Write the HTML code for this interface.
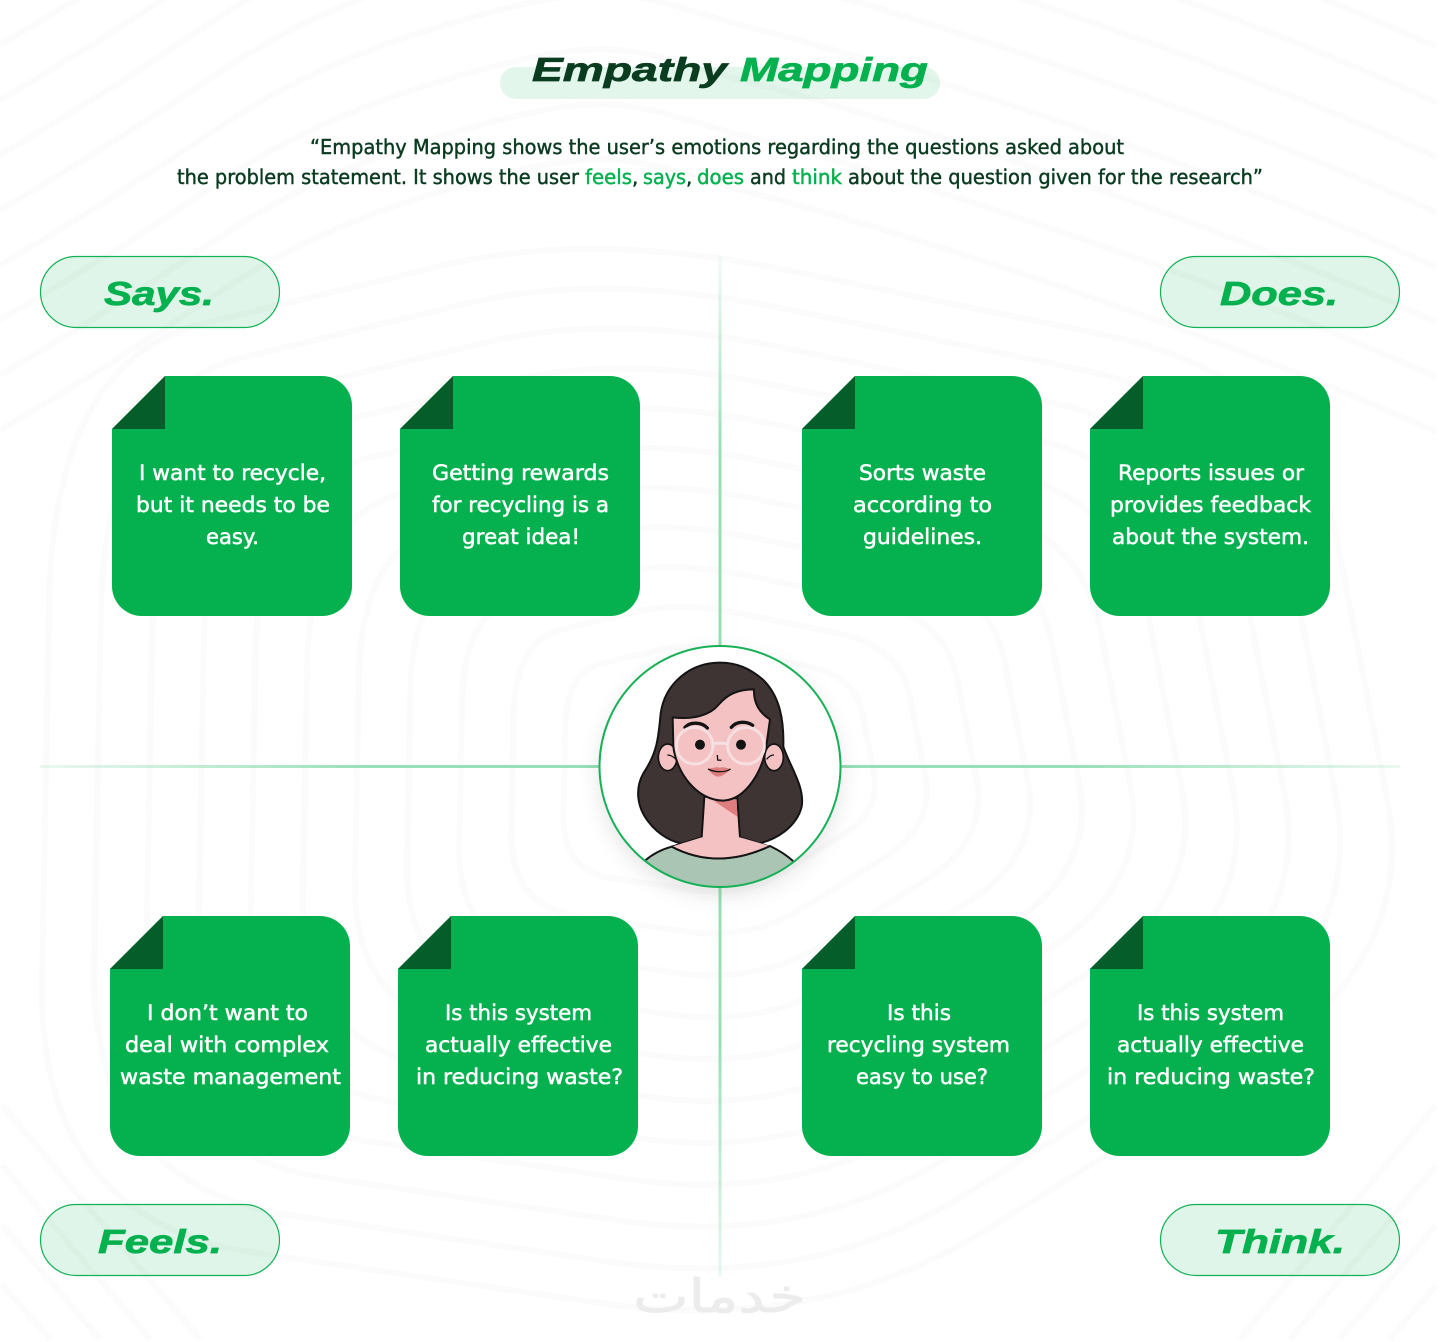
<!DOCTYPE html>
<html><head><meta charset="utf-8"><title>Empathy Mapping</title>
<style>html,body{margin:0;padding:0;background:#fff;width:1440px;height:1342px;overflow:hidden}svg{display:block}
.h{font-family:"Liberation Sans",sans-serif;font-weight:700;font-style:italic;font-size:33px;stroke-width:.7px}
.s{font-family:"DejaVu Sans",sans-serif;font-size:20px;font-weight:400;fill:#0b3b20;stroke:#0b3b20;stroke-width:.45px}
.g{fill:#04b14e;stroke:#04b14e}
.c{font-family:"DejaVu Sans",sans-serif;font-size:21px;fill:#fff;stroke:#fff;stroke-width:.5px}
</style></head><body>
<svg xmlns="http://www.w3.org/2000/svg" width="1440" height="1342" viewBox="0 0 1440 1342">
<defs>
<linearGradient id="vt" x1="0" y1="0" x2="0" y2="1"><stop offset="0" stop-color="#96dfb7" stop-opacity=".1"/><stop offset=".5" stop-color="#96dfb7"/></linearGradient>
<linearGradient id="vb" x1="0" y1="0" x2="0" y2="1"><stop offset=".4" stop-color="#96dfb7"/><stop offset="1" stop-color="#96dfb7" stop-opacity=".2"/></linearGradient>
<linearGradient id="hl" x1="0" y1="0" x2="1" y2="0"><stop offset="0" stop-color="#96dfb7" stop-opacity=".2"/><stop offset=".6" stop-color="#96dfb7"/></linearGradient>
<linearGradient id="hr" x1="0" y1="0" x2="1" y2="0"><stop offset=".4" stop-color="#96dfb7"/><stop offset="1" stop-color="#96dfb7" stop-opacity=".2"/></linearGradient>
<path id="card" d="M53 0 H210 A30 30 0 0 1 240 30 V210 A30 30 0 0 1 210 240 H30 A30 30 0 0 1 0 210 V53 Z" fill="#04b14e"/>
<path id="fold" d="M53 0 V53 H0 Z" fill="#055e29"/>
<path id="r" vector-effect="non-scaling-stroke" d="M-158.8 -136.2 L-86.2 -153.8 Q-40 -165 21.6 -152.4 L118.4 -132.6 Q180 -120 189.8 -69.6 L205.2 9.6 Q215 60 163.2 92.2 L81.8 142.8 Q30 175 -37.2 165.2 L-142.8 149.8 Q-210 140 -208.6 65.8 L-206.4 -50.8 Q-205 -125 -158.8 -136.2 Z"/>
<path id="t" d="M0 320 C60 285 133 240 200 195 S333 110 480 70 S640 55 760 85 S1200 215 1436 322"/>
<filter id="sh" x="-20%" y="-20%" width="140%" height="140%"><feDropShadow dx="0" dy="8" stdDeviation="10" flood-color="#000" flood-opacity=".1"/></filter>
<clipPath id="cc"><circle cx="390" cy="380" r="361"/></clipPath>
</defs>

<rect width="1440" height="1342" fill="#fff"/>
<g fill="none" stroke="#fafbfa" stroke-width="6">
<g transform="translate(720 766)">
<use href="#r" transform="scale(.75)"/><use href="#r" transform="scale(1)"/><use href="#r" transform="scale(1.25)"/><use href="#r" transform="scale(1.5)"/><use href="#r" transform="scale(1.75)"/><use href="#r" transform="scale(2)"/><use href="#r" transform="scale(2.25)"/><use href="#r" transform="scale(2.5)"/><use href="#r" transform="scale(2.75)"/><use href="#r" transform="scale(3)"/><use href="#r" transform="scale(3.25)"/>
</g>
<use href="#t" y="110"/><use href="#t" y="55"/><use href="#t"/><use href="#t" y="-55"/><use href="#t" y="-110"/><use href="#t" y="-165"/><use href="#t" y="-220"/><use href="#t" y="-275"/><use href="#t" y="-330"/>
<path d="M1240 1339 L1436 1105 M1290 1339 L1436 1165 M1340 1339 L1436 1225 M1390 1339 L1436 1285 M200 1339 L2 1105 M150 1339 L2 1165 M100 1339 L2 1225 M50 1339 L2 1285"/>
</g>

<rect x="500" y="67" width="440" height="32" rx="16" fill="#04b14e" fill-opacity=".11"/>
<text class="h" x="532" y="81" textLength="195" lengthAdjust="spacingAndGlyphs" fill="#0a3d20" stroke="#0a3d20">Empathy</text>
<text class="h g" x="740" y="81" textLength="188" lengthAdjust="spacingAndGlyphs">Mapping</text>

<text class="s" x="310" y="154" textLength="814" lengthAdjust="spacingAndGlyphs">“Empathy Mapping shows the user’s emotions regarding the questions asked about</text>
<text class="s" x="177" y="184" textLength="402" lengthAdjust="spacingAndGlyphs">the problem statement. It shows the user</text>
<text class="s g" x="585" y="184" textLength="47" lengthAdjust="spacingAndGlyphs">feels</text>
<text class="s" x="632" y="184">,</text>
<text class="s g" x="643" y="184" textLength="43" lengthAdjust="spacingAndGlyphs">says</text>
<text class="s" x="686" y="184">,</text>
<text class="s g" x="697" y="184" textLength="47" lengthAdjust="spacingAndGlyphs">does</text>
<text class="s" x="750" y="184" textLength="36" lengthAdjust="spacingAndGlyphs">and</text>
<text class="s g" x="792" y="184" textLength="50" lengthAdjust="spacingAndGlyphs">think</text>
<text class="s" x="848" y="184" textLength="415" lengthAdjust="spacingAndGlyphs">about the question given for the research”</text>

<rect x="718.5" y="255" width="3" height="391" fill="url(#vt)"/>
<rect x="718.5" y="886" width="3" height="391" fill="url(#vb)"/>
<rect x="40" y="765" width="560" height="3" fill="url(#hl)"/>
<rect x="840" y="765" width="560" height="3" fill="url(#hr)"/>

<g fill="#04b14e" fill-opacity=".125" stroke="#12b155" stroke-width="1.2">
<rect x="40.5" y="256.5" width="239" height="71" rx="35.5"/>
<rect x="1160.5" y="256.5" width="239" height="71" rx="35.5"/>
<rect x="40.5" y="1204.5" width="239" height="71" rx="35.5"/>
<rect x="1160.5" y="1204.5" width="239" height="71" rx="35.5"/>
</g>
<text class="h g" x="104" y="305" textLength="110" lengthAdjust="spacingAndGlyphs">Says.</text>
<text class="h g" x="1220" y="305" textLength="118" lengthAdjust="spacingAndGlyphs">Does.</text>
<text class="h g" x="98" y="1253" textLength="124" lengthAdjust="spacingAndGlyphs">Feels.</text>
<text class="h g" x="1215" y="1253" textLength="130" lengthAdjust="spacingAndGlyphs">Think.</text>

<use href="#card" x="112" y="376"/><use href="#fold" x="112" y="376"/>
<use href="#card" x="400" y="376"/><use href="#fold" x="400" y="376"/>
<use href="#card" x="802" y="376"/><use href="#fold" x="802" y="376"/>
<use href="#card" x="1090" y="376"/><use href="#fold" x="1090" y="376"/>
<use href="#card" x="110" y="916"/><use href="#fold" x="110" y="916"/>
<use href="#card" x="398" y="916"/><use href="#fold" x="398" y="916"/>
<use href="#card" x="802" y="916"/><use href="#fold" x="802" y="916"/>
<use href="#card" x="1090" y="916"/><use href="#fold" x="1090" y="916"/>

<g>
<text class="c" x="139" y="480" textLength="187" lengthAdjust="spacingAndGlyphs">I want to recycle,</text>
<text class="c" x="136" y="512" textLength="194" lengthAdjust="spacingAndGlyphs">but it needs to be</text>
<text class="c" x="206" y="544" textLength="53" lengthAdjust="spacingAndGlyphs">easy.</text>
<text class="c" x="432" y="480" textLength="177" lengthAdjust="spacingAndGlyphs">Getting rewards</text>
<text class="c" x="432" y="512" textLength="177" lengthAdjust="spacingAndGlyphs">for recycling is a</text>
<text class="c" x="462" y="544" textLength="118" lengthAdjust="spacingAndGlyphs">great idea!</text>
<text class="c" x="859" y="480" textLength="127" lengthAdjust="spacingAndGlyphs">Sorts waste</text>
<text class="c" x="853" y="512" textLength="139" lengthAdjust="spacingAndGlyphs">according to</text>
<text class="c" x="863" y="544" textLength="119" lengthAdjust="spacingAndGlyphs">guidelines.</text>
<text class="c" x="1118" y="480" textLength="186" lengthAdjust="spacingAndGlyphs">Reports issues or</text>
<text class="c" x="1110" y="512" textLength="201" lengthAdjust="spacingAndGlyphs">provides feedback</text>
<text class="c" x="1112" y="544" textLength="197" lengthAdjust="spacingAndGlyphs">about the system.</text>
<text class="c" x="147" y="1020" textLength="161" lengthAdjust="spacingAndGlyphs">I don’t want to</text>
<text class="c" x="125" y="1052" textLength="204" lengthAdjust="spacingAndGlyphs">deal with complex</text>
<text class="c" x="120" y="1084" textLength="221" lengthAdjust="spacingAndGlyphs">waste management</text>
<text class="c" x="445" y="1020" textLength="147" lengthAdjust="spacingAndGlyphs">Is this system</text>
<text class="c" x="425" y="1052" textLength="187" lengthAdjust="spacingAndGlyphs">actually effective</text>
<text class="c" x="416" y="1084" textLength="207" lengthAdjust="spacingAndGlyphs">in reducing waste?</text>
<text class="c" x="887" y="1020" textLength="64" lengthAdjust="spacingAndGlyphs">Is this</text>
<text class="c" x="827" y="1052" textLength="183" lengthAdjust="spacingAndGlyphs">recycling system</text>
<text class="c" x="856" y="1084" textLength="132" lengthAdjust="spacingAndGlyphs">easy to use?</text>
<text class="c" x="1137" y="1020" textLength="147" lengthAdjust="spacingAndGlyphs">Is this system</text>
<text class="c" x="1117" y="1052" textLength="187" lengthAdjust="spacingAndGlyphs">actually effective</text>
<text class="c" x="1107" y="1084" textLength="208" lengthAdjust="spacingAndGlyphs">in reducing waste?</text>
</g>

<circle cx="720" cy="766.5" r="121" fill="#fff" filter="url(#sh)"/>
<g transform="translate(590 640) scale(.33333)">
<g clip-path="url(#cc)">
<g stroke="#141414" stroke-width="6" stroke-linejoin="round">
<path d="M390 68 C300 68 225 130 212 220 C205 300 200 340 160 400 C135 445 140 500 175 545 C205 585 250 610 290 612 L500 612 C560 600 620 560 635 500 C645 440 600 380 580 320 C582 240 570 170 520 120 C480 85 440 68 390 68Z" fill="#3d3433"/>
<path d="M343 470 L335 592 L245 620 L540 620 L450 592 L442 475 Z" fill="#f5c2c3"/>
<path d="M165 662 C190 640 215 628 245 620 C340 670 440 665 540 618 C565 630 590 645 610 664 L610 760 L165 760 Z" fill="#aac5b3"/>
<path d="M245 620 C340 670 440 665 540 618 L450 592 L335 592 Z" fill="#f5c2c3" stroke="none"/>
<path d="M245 620 C340 670 440 665 540 618" fill="none"/>
<path d="M372 483 L442 530 L440 478 Z" fill="#dd7d7d" stroke="none"/>
<ellipse cx="233" cy="352" rx="28" ry="40" fill="#f5c2c3" stroke-width="5"/>
<ellipse cx="552" cy="352" rx="28" ry="40" fill="#f5c2c3" stroke-width="5"/>
<path d="M248 232 L250 320 C260 400 320 480 400 482 C470 478 520 390 530 310 L540 238 C510 220 490 190 492 148 C440 148 410 165 385 195 C360 225 310 240 248 232Z" fill="#f5c2c3"/>
</g>
<path d="M285 262 C300 245 335 245 352 264 M424 262 C440 243 470 243 488 256" fill="none" stroke="#141414" stroke-width="10" stroke-linecap="round"/>
<path d="M232 345 C242 345 250 350 258 358 M552 345 C544 345 536 350 530 358" fill="none" stroke="#141414" stroke-width="4"/>
<circle cx="330" cy="314" r="15" fill="#141414"/>
<circle cx="453" cy="314" r="15" fill="#141414"/>
<path d="M382 345 L383 360 L394 361" fill="none" stroke="#141414" stroke-width="4"/>
<path d="M354 387 C375 382 385 380 390 384 C395 380 405 382 422 387 C410 400 395 410 385 410 C375 410 362 400 354 387Z" fill="#dd7d7d"/>
<path d="M354 387 C375 398 405 398 422 387" fill="none" stroke="#141414" stroke-width="4"/>
<g fill="none" stroke="#f6dfe0" stroke-width="9">
<circle cx="314" cy="317" r="55"/><circle cx="468" cy="317" r="55"/><path d="M368 312 C385 308 398 308 414 312"/>
</g>
</g>
</g>
<circle cx="720" cy="766.5" r="120.5" fill="none" stroke="#16b156" stroke-width="2"/>

<text x="633" y="1312" font-family="'DejaVu Sans',sans-serif" font-size="46" fill="#ececec" stroke="#ececec" stroke-width=".8" textLength="173" lengthAdjust="spacingAndGlyphs">خدمات</text>
</svg>
</body></html>
